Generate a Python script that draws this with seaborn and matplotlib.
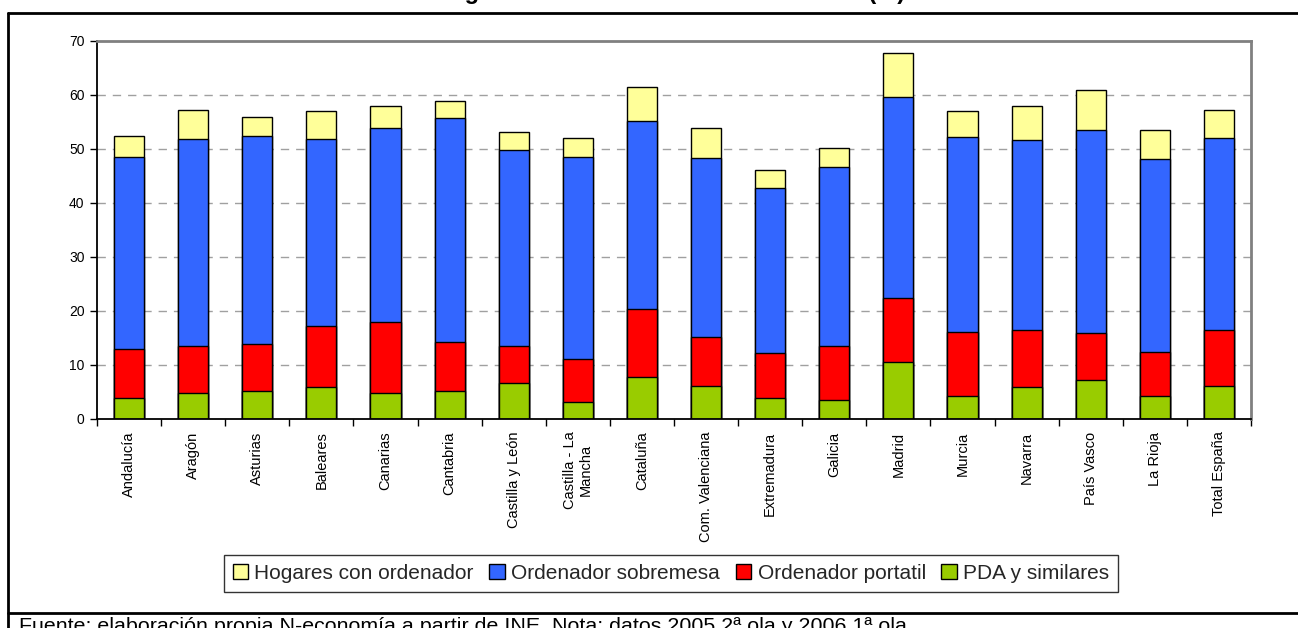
import matplotlib
matplotlib.use("Agg")
import matplotlib.pyplot as plt
from matplotlib.lines import Line2D
from matplotlib.patches import Patch
import numpy as np
import pandas as pd
import seaborn as sns

# Share of households (%) by region and type of equipment
regions = ["Andalucía", "Aragón", "Asturias", "Baleares", "Canarias", "Cantabria",
           "Castilla y León", "Castilla - La\nMancha", "Cataluña", "Com. Valenciana",
           "Extremadura", "Galicia", "Madrid", "Murcia", "Navarra", "País Vasco",
           "La Rioja", "Total España"]
hogares = [52.4, 57.3, 56.0, 57.0, 57.9, 58.9, 53.1, 52.1, 61.5, 53.8,
           46.2, 50.1, 67.7, 57.0, 57.9, 61.0, 53.5, 57.2]
sobremesa = [48.6, 51.8, 52.4, 51.9, 53.8, 55.7, 49.8, 48.6, 55.2, 48.3,
             42.7, 46.6, 59.6, 52.3, 51.7, 53.6, 48.2, 52.0]
portatil = [13.0, 13.6, 13.9, 17.2, 18.0, 14.3, 13.6, 11.2, 20.3, 15.1,
            12.3, 13.5, 22.5, 16.2, 16.4, 16.0, 12.5, 16.4]
pda = [3.8, 4.9, 5.1, 5.9, 4.8, 5.2, 6.6, 3.1, 7.7, 6.2,
       3.8, 3.6, 10.6, 4.3, 5.9, 7.3, 4.3, 6.2]

series_names = ["Hogares con ordenador", "Ordenador sobremesa",
                "Ordenador portatil", "PDA y similares"]
series_values = [hogares, sobremesa, portatil, pda]
series_colors = ["#FFFF99", "#3366FF", "#FF0000", "#99CC00"]

title = "Los hogares con ordenador en las CC.AA. (%)"
footnote = ("Fuente: elaboración propia N-economía a partir de INE. "
            "Nota: datos 2005 2ª ola y 2006 1ª ola")

sns.set_theme(style="white")
plt.rcParams["font.family"] = ["Liberation Sans", "DejaVu Sans"]

W, H = 1298, 628
fig = plt.figure(figsize=(W / 100, H / 100), dpi=100)
fig.patch.set_facecolor("white")
ax = fig.add_axes([97 / W, (H - 419) / H, 1154 / W, 378 / H])

# Overlapping bars, each one drawn from zero, tallest series at the back
for name, vals, col in zip(series_names, series_values, series_colors):
    df = pd.DataFrame({"region": regions, "valor": vals})
    sns.barplot(data=df, x="region", y="valor", color=col, saturation=1,
                width=0.47, edgecolor="black", linewidth=1.0,
                errorbar=None, ax=ax, zorder=2)

ax.set_xlim(-0.5, len(regions) - 0.5)
ax.set_ylim(0, 70)
ax.set_yticks(np.arange(0, 71, 10))
ax.set_xlabel("")
ax.set_ylabel("")

ax.set_axisbelow(True)
ax.yaxis.grid(True, color="#A0A0A0", linestyle=(0, (6, 5)), linewidth=1.0)
ax.xaxis.grid(False)
for gl, v in zip(ax.yaxis.get_gridlines(), ax.get_yticks()):
    if v in (0, 70):
        gl.set_visible(False)

for side in ("left", "bottom"):
    ax.spines[side].set_color("black")
    ax.spines[side].set_linewidth(1.3)
for side in ("top", "right"):
    ax.spines[side].set_color("#808080")
    ax.spines[side].set_linewidth(2.0)
    ax.spines[side].set_visible(True)

ax.set_xticks(np.arange(-0.5, len(regions), 1), minor=True)
ax.tick_params(axis="x", which="major", length=0, pad=9, labelsize=10.5,
               labelrotation=90, labelcolor="black")
ax.tick_params(axis="x", which="minor", length=5, width=1, color="black",
               direction="out", bottom=True)
ax.tick_params(axis="y", which="major", length=5, width=1, color="black",
               direction="out", left=True, pad=4, labelsize=10, labelcolor="black")
for lbl in ax.get_xticklabels():
    lbl.set_verticalalignment("top")
    lbl.set_horizontalalignment("center")

handles = [Patch(facecolor=c, edgecolor="black", linewidth=1.0) for c in series_colors]
leg = fig.legend(handles, series_names, loc="center",
                 bbox_to_anchor=(671 / W, 1 - 573.5 / H), ncol=4, frameon=True,
                 fancybox=False, edgecolor="black", fontsize=15,
                 handlelength=0.75, handleheight=0.75, handletextpad=0.3,
                 columnspacing=0.75, borderpad=0.42, borderaxespad=0)
leg.get_frame().set_linewidth(1.0)

# Chart frame and footnote separator
lw_frame = 2.0
fig.add_artist(Line2D([8 / W, 8 / W], [0, 1 - 12.5 / H], transform=fig.transFigure,
                      color="black", linewidth=lw_frame))
fig.add_artist(Line2D([8 / W, 1], [1 - 12.5 / H, 1 - 12.5 / H], transform=fig.transFigure,
                      color="black", linewidth=lw_frame))
fig.add_artist(Line2D([8 / W, 1], [1 - 612.5 / H, 1 - 612.5 / H], transform=fig.transFigure,
                      color="black", linewidth=lw_frame))

fig.text(646 / W, 1 + 1.5 / H, title, ha="center", va="baseline",
         fontsize=17, fontweight="bold", color="black")
fig.text(19 / W, -4 / H, footnote, ha="left", va="baseline", fontsize=15.4,
         color="black")

fig.savefig("out.png", dpi=100, facecolor="white")
